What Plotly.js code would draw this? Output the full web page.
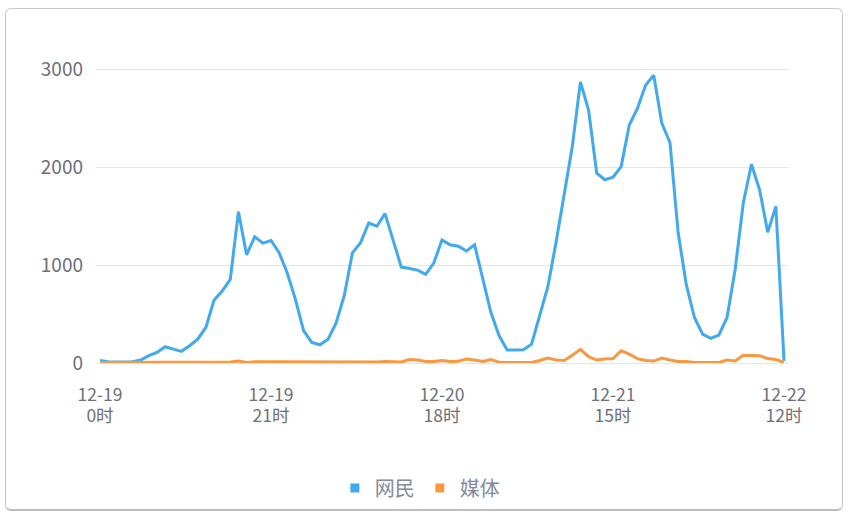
<!DOCTYPE html>
<html>
<head>
<meta charset="utf-8">
<script src="https://cdn.plot.ly/plotly-3.0.1.min.js"></script>
<style>
  html, body { margin: 0; padding: 0; background: #ffffff; }
  #wrap { position: relative; width: 850px; height: 518px; overflow: hidden; }
  #chart { position: absolute; left: 0; top: 0; width: 850px; height: 518px; }
  #frame { position: absolute; left: 5px; top: 8px; width: 836px; height: 500px;
           border: 1px solid #c9c9c9; border-bottom: 2px solid #bdbdbd; border-radius: 6px;
           pointer-events: none; }
</style>
</head>
<body>
<div id="wrap">
  <div id="chart"></div>
  <div id="frame"></div>
</div>
<script>
// Hour index from 12-19 0时 to 12-22 12时
const hours = [0,1,2,3,4,5,6,7,8,9,10,11,12,13,14,15,16,17,18,19,20,21,22,23,24,25,26,27,28,29,
  30,31,32,33,34,35,36,37,38,39,40,41,42,43,44,45,46,47,48,49,50,51,52,53,54,55,56,57,58,59,
  60,61,62,63,64,65,66,67,68,69,70,71,72,73,74,75,76,77,78,79,80,81,82,83,84];

const netizens = [25,12,10,10,12,30,75,108,166,142,119,176,244,363,640,735,854,1545,1105,1290,
  1225,1252,1126,920,650,330,210,186,242,410,690,1126,1230,1430,1397,1526,1265,980,966,949,
  905,1024,1258,1208,1193,1145,1208,854,518,280,132,132,135,193,481,780,1230,1736,2211,2872,
  2584,1940,1872,1899,2007,2431,2601,2838,2940,2448,2250,1330,800,465,295,251,285,465,956,1635,
  2031,1770,1336,1600,23];

const media = [5,5,5,5,5,5,5,5,5,5,5,5,5,5,5,8,10,20,5,12,
  12,10,5,5,5,5,5,5,5,5,5,5,5,5,10,15,10,10,35,30,
  15,15,25,15,18,40,30,15,35,8,5,5,5,5,25,50,30,25,80,140,
  65,30,40,45,125,90,45,25,20,50,30,15,15,5,5,5,5,30,20,80,
  75,75,45,35,5];

const tickHours = [0,21,42,63,84];
const tickDates = ['12-19','12-19','12-20','12-21','12-22'];
const tickClock = ['0时','21时','18时','15时','12时'];

const seriesNames = ['网民','媒体'];
const colors = ['#41a9ef','#f9983f'];

const font = '"Noto Sans CJK SC", "Noto Sans", sans-serif';
const tickColor = '#6e7079';
const xRange = [-0.49, 84.49];

const traces = [
  { x: hours, y: netizens, type: 'scatter', mode: 'lines', name: seriesNames[0],
    line: { color: colors[0], width: 3 }, showlegend: false, hoverinfo: 'x+y' },
  { x: hours, y: media, type: 'scatter', mode: 'lines', name: seriesNames[1],
    line: { color: colors[1], width: 3 }, showlegend: false, hoverinfo: 'x+y' },
  { x: [null], y: [null], type: 'scatter', mode: 'markers', name: seriesNames[0],
    marker: { color: colors[0], symbol: 'square', size: 9 }, showlegend: true },
  { x: [null], y: [null], type: 'scatter', mode: 'markers', name: seriesNames[1],
    marker: { color: colors[1], symbol: 'square', size: 9 }, showlegend: true },
  { x: [null], y: [null], xaxis: 'x2', type: 'scatter', mode: 'lines', showlegend: false, hoverinfo: 'skip' }
];

const layout = {
  width: 850, height: 518,
  margin: { l: 96, r: 62, t: 40, b: 154 },
  paper_bgcolor: 'rgba(0,0,0,0)', plot_bgcolor: 'rgba(0,0,0,0)',
  font: { family: font, color: tickColor, size: 18 },
  showlegend: true,
  legend: { orientation: 'h', x: 0.468, xanchor: 'center', y: -0.383, yanchor: 'middle',
            font: { family: font, size: 20, color: '#858999' }, itemwidth: 30 },
  xaxis: {
    range: xRange, showgrid: false, zeroline: false, showline: false,
    tickmode: 'array', tickvals: tickHours, ticktext: tickDates,
    ticks: '', ticklabelstandoff: 19,
    tickfont: { family: font, size: 17.5, color: tickColor }
  },
  xaxis2: {
    range: xRange, overlaying: 'x', side: 'bottom', anchor: 'y',
    showgrid: false, zeroline: false, showline: false,
    tickmode: 'array', tickvals: tickHours, ticktext: tickClock,
    ticks: '', ticklabelstandoff: 40,
    tickfont: { family: font, size: 17.5, color: tickColor }
  },
  yaxis: {
    range: [0, 3300], tickmode: 'array', tickvals: [0,1000,2000,3000],
    showgrid: true, gridcolor: '#e0e6f1', gridwidth: 1,
    zeroline: true, zerolinecolor: '#e0e6f1', zerolinewidth: 1,
    showline: false, ticks: '', ticklabelstandoff: 12,
    tickfont: { family: font, size: 19, color: tickColor }
  }
};

Plotly.newPlot('chart', traces, layout, { displayModeBar: false, staticPlot: true });
</script>
</body>
</html>
